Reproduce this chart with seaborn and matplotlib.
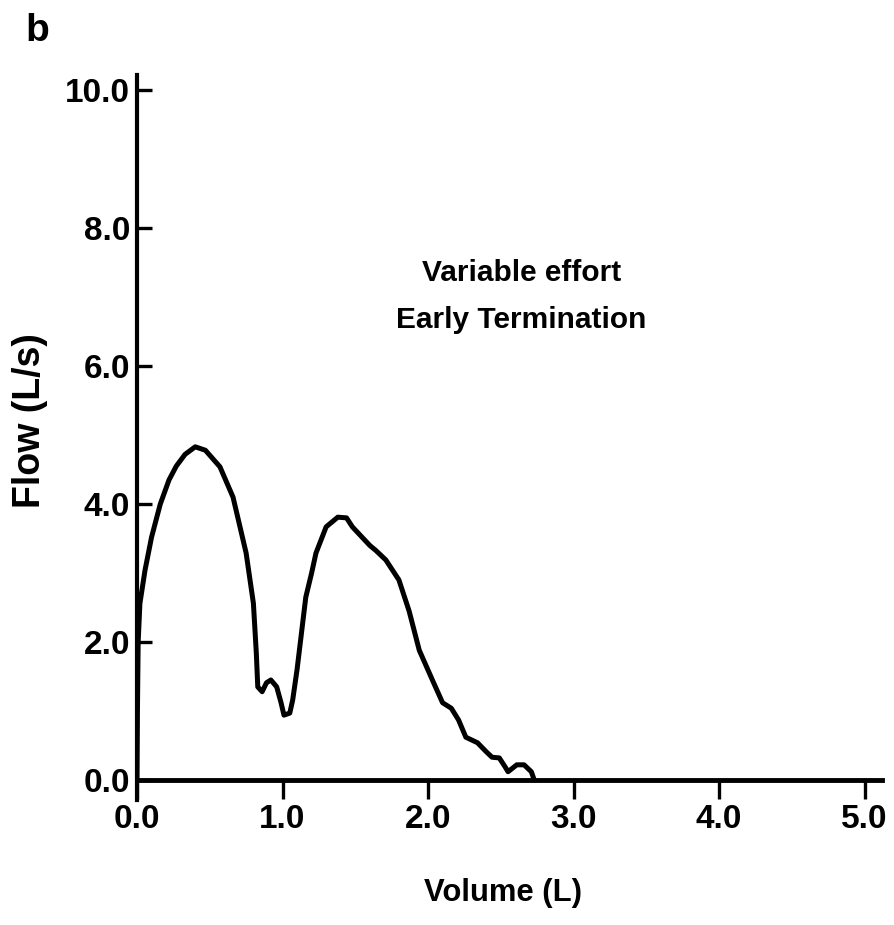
import matplotlib
matplotlib.use("Agg")
import matplotlib.pyplot as plt
import seaborn as sns
import pandas as pd

volume = [0.0, 0.003, 0.008, 0.02, 0.055, 0.10, 0.16, 0.22, 0.27, 0.33, 0.40, 0.47,
          0.57, 0.66, 0.75, 0.80, 0.82, 0.83, 0.86, 0.89, 0.92, 0.96, 0.99, 1.01,
          1.05, 1.07, 1.10, 1.16, 1.20, 1.23, 1.30, 1.38, 1.44, 1.48, 1.60, 1.64,
          1.71, 1.80, 1.87, 1.94, 2.03, 2.10, 2.16, 2.21, 2.26, 2.34, 2.40, 2.44,
          2.49, 2.53, 2.55, 2.61, 2.66, 2.71, 2.73]
flow = [0.0, 1.0, 2.0, 2.56, 3.04, 3.52, 4.0, 4.35, 4.55, 4.72, 4.83, 4.78,
        4.54, 4.1, 3.29, 2.56, 1.84, 1.35, 1.28, 1.41, 1.45, 1.35, 1.12, 0.94,
        0.97, 1.16, 1.6, 2.65, 3.0, 3.29, 3.67, 3.81, 3.8, 3.67, 3.4, 3.33,
        3.19, 2.9, 2.45, 1.88, 1.45, 1.12, 1.04, 0.87, 0.62, 0.54, 0.41, 0.33,
        0.32, 0.19, 0.12, 0.22, 0.22, 0.12, 0.0]

x_ticks = [0.0, 1.0, 2.0, 3.0, 4.0, 5.0]
y_ticks = [0.0, 2.0, 4.0, 6.0, 8.0, 10.0]
x_ticklabels = ["0.0", "1.0", "2.0", "3.0", "4.0", "5.0"]
y_ticklabels = ["0.0", "2.0", "4.0", "6.0", "8.0", "10.0"]
annotation = "Variable effort\nEarly Termination"
panel_label = "b"
x_label = "Volume (L)"
y_label = "Flow (L/s)"

sns.set_theme(style="white")
plt.rcParams["font.family"] = ["Liberation Sans", "DejaVu Sans"]
for key in ["text.color", "axes.labelcolor", "xtick.color", "ytick.color"]:
    plt.rcParams[key] = "black"

df = pd.DataFrame({"Volume": volume, "Flow": flow})

fig = plt.figure(figsize=(8.95, 9.25), dpi=100)
ax = fig.add_axes([137 / 895, 125 / 925, 745 / 895, 725 / 925])

sns.lineplot(data=df, x="Volume", y="Flow", sort=False, estimator=None,
             color="black", linewidth=3.6, ax=ax)

ax.set_xlim(0, 5.12)
ax.set_ylim(-0.29, 10.22)

for s in ["top", "right"]:
    ax.spines[s].set_visible(False)
ax.spines["left"].set_linewidth(3.0)
ax.spines["left"].set_color("black")
ax.spines["bottom"].set_position(("data", 0))
ax.spines["bottom"].set_linewidth(3.5)
ax.spines["bottom"].set_color("black")

ax.set_xticks(x_ticks)
ax.set_xticklabels(x_ticklabels, fontweight="bold")
ax.set_yticks(y_ticks)
ax.set_yticklabels(y_ticklabels, fontweight="bold")
ax.tick_params(axis="x", direction="out", length=14, width=2.4, pad=3,
               labelsize=24, bottom=True)
ax.tick_params(axis="y", direction="in", length=11, width=2.4, pad=5,
               labelsize=24, left=True)

ax.set_xlabel(x_label, fontsize=22.3, fontweight="bold")
ax.set_ylabel(y_label, fontsize=27, fontweight="bold")
ax.xaxis.set_label_coords(0.491, -0.128)
ax.xaxis.label.set_va("center")
ax.yaxis.set_label_coords(-0.144, 0.523)
ax.yaxis.label.set_va("center")

ax.text(2.64, 7.01, annotation, ha="center", va="center", fontsize=21.5,
        fontweight="bold", linespacing=1.88)

fig.text(37 / 895, 1 - 31 / 925, panel_label, ha="center", va="center",
         fontsize=28, fontweight="bold")

fig.savefig("out.png", dpi=100, facecolor="white")
